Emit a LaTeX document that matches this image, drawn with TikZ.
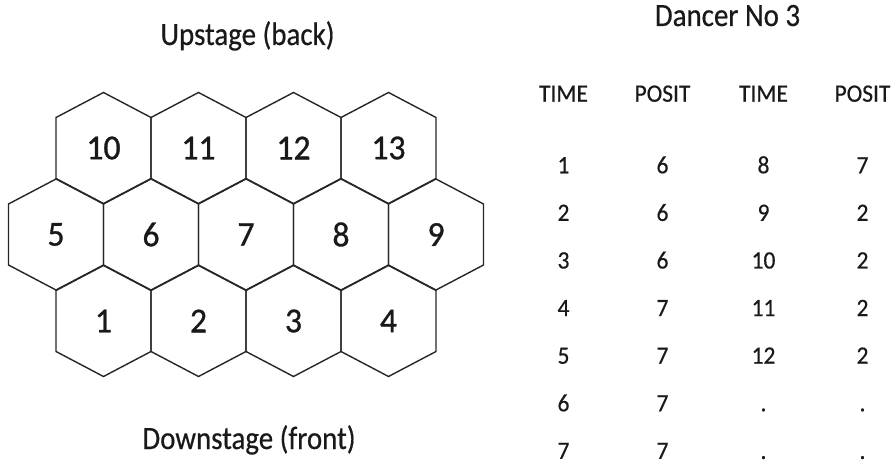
\documentclass[tikz,border=0pt]{standalone}
\usepackage{fontspec}
\setmainfont{Carlito}
\newfontfamily\stagefont{Carlito}[FakeStretch=0.89, FakeBold=0.5]
\newfontfamily\tabfont{Carlito}[FakeStretch=0.94, FakeBold=0.5]
\newfontfamily\numfont{Carlito}[FakeStretch=0.96, FakeBold=0.9]
\usepackage{tikz}
\usetikzlibrary{positioning}

\begin{document}
\begin{tikzpicture}[
    x=1pt, y=-1pt,
    every node/.style={align=center, inner sep=0pt},
    hexline/.style={line width=1.4pt, black!85, line join=miter},
    num/.style ={font=\numfont\fontsize{35}{40}\selectfont, text=black!90},
    stage/.style={font=\stagefont\fontsize{32.5}{38}\selectfont, anchor=base, text=black!90},
    head/.style ={font=\tabfont\fontsize{25}{30}\selectfont, anchor=base, text=black!90},
    cell/.style ={font=\tabfont\fontsize{25}{30}\selectfont, anchor=base, text=black!90},
    hexcell/.pic={
        \draw[hexline] (0,-55.5) -- (47.5,-30.5) -- (47.5,30.5) -- (0,55.5)
            -- (-47.5,30.5) -- (-47.5,-30.5) -- cycle;
    }
]
\useasboundingbox (0,0) rectangle (895,465);

% =========================================================
% LEFT: stage grid
% =========================================================
\node[stage] (up) at (247.5,45) {Upstage (back)};

\foreach \n/\cx/\cy in {10/103.5/148, 11/198.5/148, 12/293.5/148, 13/388.5/148,
                        5/56/234.5, 6/151/234.5, 7/246/234.5, 8/341/234.5, 9/436/234.5,
                        1/103.5/321, 2/198.5/321, 3/293.5/321, 4/388.5/321} {
    \pic at (\cx,\cy) {hexcell};
    \node[num] (p\n) at (\cx,\cy) {\n};
}

\node[stage] (down) at (249,449) {Downstage (front)};

% =========================================================
% RIGHT: dancer table
% =========================================================
\node[stage] (dancer) at (727.5,26) {Dancer No 3};

\node[head] (h1) at (563.5,101.7) {TIME};
\node[head] (h2) at (662.5,101.7) {POSIT};
\node[head] (h3) at (763.5,101.7) {TIME};
\node[head] (h4) at (862.5,101.7) {POSIT};

\foreach \a/\b/\c/\d [count=\i from 0] in {1/6/8/7, 2/6/9/2, 3/6/10/2, 4/7/11/2,
                                          5/7/12/2, 6/7/./., 7/7/./.} {
    \pgfmathsetmacro{\ry}{173.3+47.6*\i}
    \node[cell] (r\i a) at (563.5,\ry) {\a};
    \node[cell] (r\i b) at (662.5,\ry) {\b};
    \node[cell] (r\i c) at (763.5,\ry) {\c};
    \node[cell] (r\i d) at (862.5,\ry) {\d};
}

\end{tikzpicture}
\end{document}
